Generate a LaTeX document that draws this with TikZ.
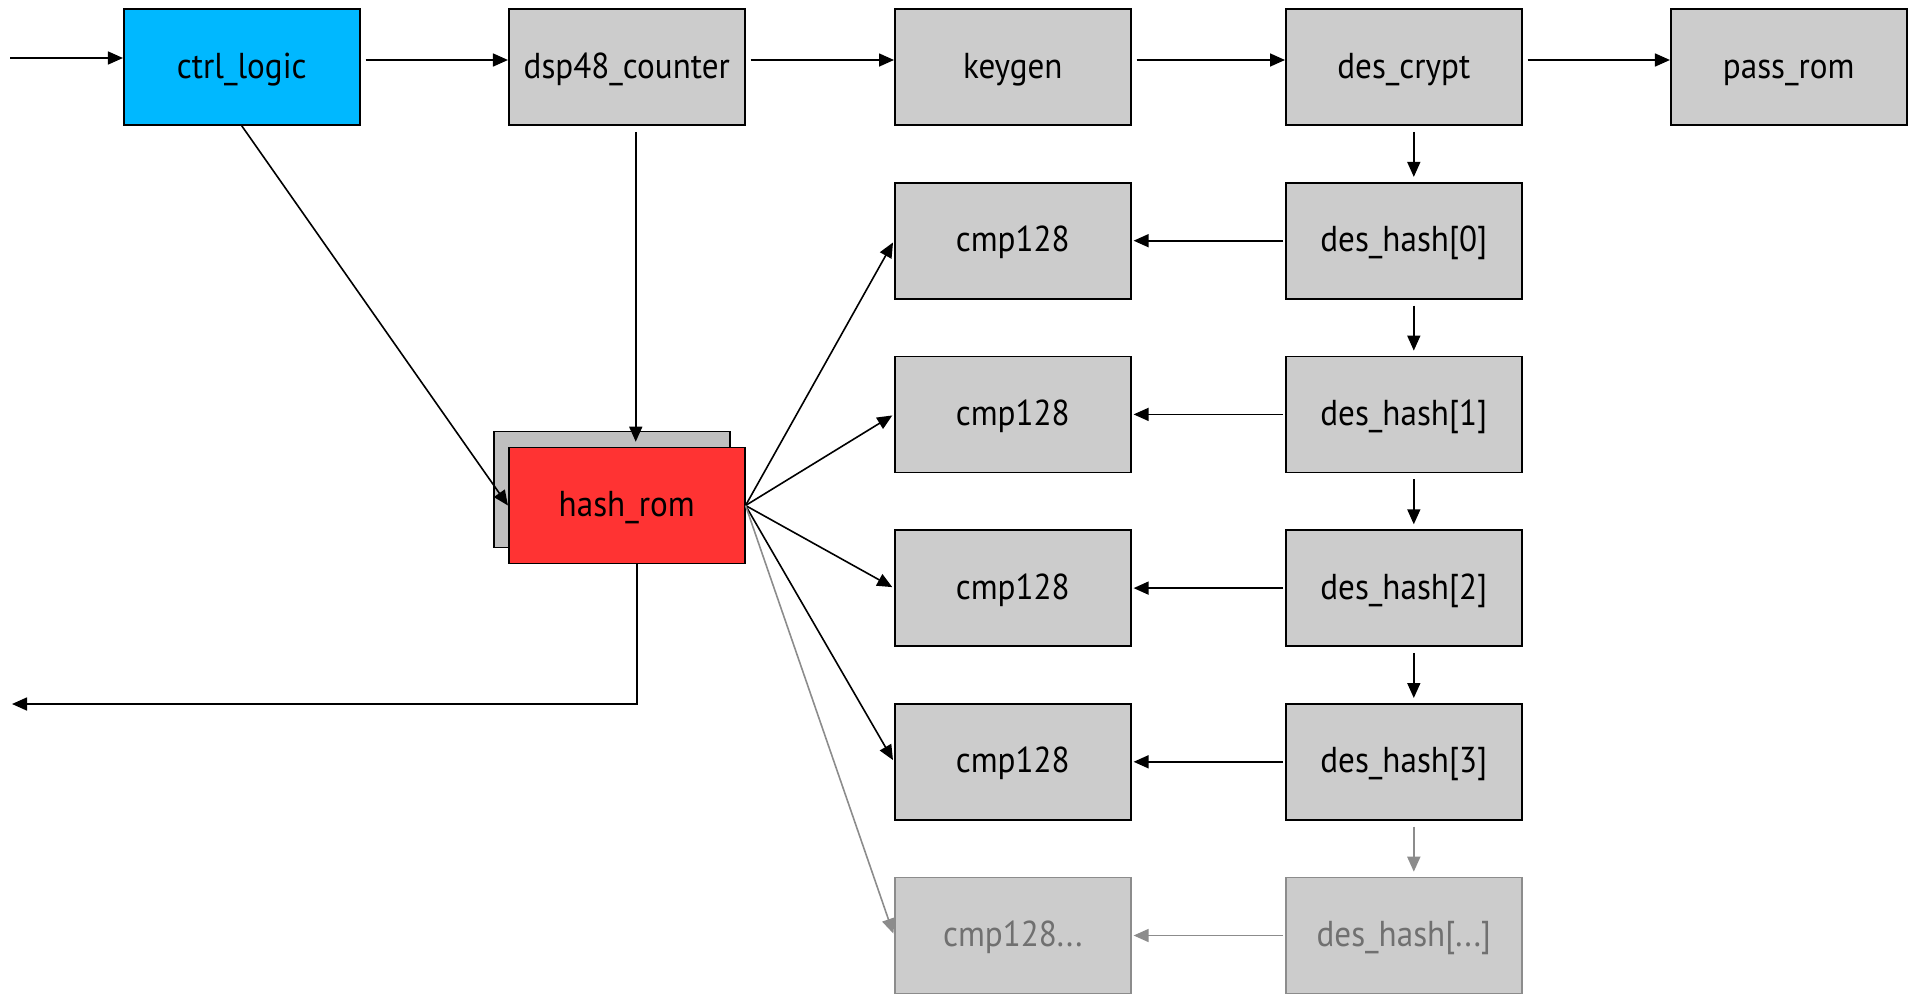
\documentclass[tikz,border=0pt]{standalone}
\usepackage{fontspec}
\setmainfont{PT Sans}[FakeStretch=0.92]
\usetikzlibrary{arrows.meta}

\definecolor{ctrlblue}{RGB}{0,184,255}
\definecolor{romred}{RGB}{255,51,51}
\definecolor{boxgray}{RGB}{204,204,204}
\definecolor{backgray}{RGB}{191,191,191}
\definecolor{ghostline}{RGB}{140,140,140}
\definecolor{ghosttext}{RGB}{112,112,112}

\begin{document}
\begin{tikzpicture}[x=1pt,y=-1pt,
  blk/.style={draw=black, line width=1.6pt, fill=boxgray,
    minimum width=236pt, minimum height=116pt, inner sep=0pt,
    text height=28pt, text depth=6pt,
    font=\fontsize{36}{42}\selectfont},
  ctrlblk/.style={blk, fill=ctrlblue},
  romblk/.style={blk, fill=romred},
  backblk/.style={blk, fill=backgray},
  ghostblk/.style={blk, draw=ghostline, text=ghosttext},
  arr/.style={draw=black, line width=1.6pt,
    -{Triangle[length=15pt,width=13pt]}},
  garr/.style={draw=ghostline, line width=1.6pt,
    -{Triangle[length=15pt,width=13pt]}},
]
\useasboundingbox (0,0) rectangle (1910,993);

% top row
\node[ctrlblk] (ctrl)  at (241.75,67) {ctrl\_logic};
\node[blk]     (dsp)   at (626.75,67) {dsp48\_counter};
\node[blk]     (kgen)  at (1012.8,67) {keygen};
\node[blk]     (crypt) at (1403.8,67) {des\_crypt};
\node[blk]     (pass)  at (1788.75,67) {pass\_rom};

% hash chain
\node[blk] (h0) at (1403.8,240.7) {des\_hash[0]};
\node[blk] (h1) at (1403.8,414.4) {des\_hash[1]};
\node[blk] (h2) at (1403.8,588.1) {des\_hash[2]};
\node[blk] (h3) at (1403.8,761.8) {des\_hash[3]};
\node[ghostblk] (h4) at (1403.8,935.5) {des\_hash[...]};

% comparators
\node[blk] (c0) at (1012.8,240.7) {cmp128};
\node[blk] (c1) at (1012.8,414.4) {cmp128};
\node[blk] (c2) at (1012.8,588.1) {cmp128};
\node[blk] (c3) at (1012.8,761.8) {cmp128};
\node[ghostblk] (c4) at (1012.8,935.5) {cmp128...};

% hash rom with a stacked copy behind it
\node[backblk] (hashbk) at (611.7,489.5) {};
\node[romblk]  (hash)   at (626.75,505.5) {hash\_rom};

% free ends
\coordinate (in)  at (10,58);
\coordinate (out) at (12,704);

% top row flow
\draw[arr] (in) -- (in -| ctrl.west);
\draw[arr, shorten <=5pt] ([yshift=7pt]ctrl.east) -- ([yshift=7pt]dsp.west);
\draw[arr, shorten <=5pt] ([yshift=7pt]dsp.east) -- ([yshift=7pt]kgen.west);
\draw[arr, shorten <=5pt] ([yshift=7pt]kgen.east) -- ([yshift=7pt]crypt.west);
\draw[arr, shorten <=5pt] ([yshift=7pt]crypt.east) -- ([yshift=7pt]pass.west);

% chain downwards
\draw[arr, shorten <=6pt, shorten >=5pt] ([xshift=10pt]crypt.south) -- ([xshift=10pt]h0.north);
\draw[arr, shorten <=6pt, shorten >=5pt] ([xshift=10pt]h0.south) -- ([xshift=10pt]h1.north);
\draw[arr, shorten <=6pt, shorten >=5pt] ([xshift=10pt]h1.south) -- ([xshift=10pt]h2.north);
\draw[arr, shorten <=6pt, shorten >=5pt] ([xshift=10pt]h2.south) -- ([xshift=10pt]h3.north);
\draw[garr, shorten <=6pt, shorten >=5pt] ([xshift=10pt]h3.south) -- ([xshift=10pt]h4.north);

% hashes into comparators
\draw[arr, shorten <=2pt, shorten >=2pt] (h0.west) -- (c0.east);
\draw[arr, shorten <=2pt, shorten >=2pt] (h1.west) -- (c1.east);
\draw[arr, shorten <=2pt, shorten >=2pt] (h2.west) -- (c2.east);
\draw[arr, shorten <=2pt, shorten >=2pt] (h3.west) -- (c3.east);
\draw[garr, shorten <=2pt, shorten >=2pt] (h4.west) -- (c4.east);

% inputs of hash rom
\draw[arr] (ctrl.south) -- (hash.west);
\draw[arr, shorten <=6pt, shorten >=5pt] ([xshift=9pt]dsp.south) -- ([xshift=9pt]hash.north);

% hash rom fan-out
\draw[arr, shorten >=2pt] (hash.east) -- (c0.west);
\draw[arr, shorten >=2pt] (hash.east) -- (c1.west);
\draw[arr, shorten >=2pt] (hash.east) -- (c2.west);
\draw[arr, shorten >=2pt] (hash.east) -- (c3.west);
\draw[garr, shorten >=2pt] (hash.east) -- (c4.west);

% result back out
\draw[arr] ([xshift=10pt]hash.south) |- (out);
\end{tikzpicture}
\end{document}
